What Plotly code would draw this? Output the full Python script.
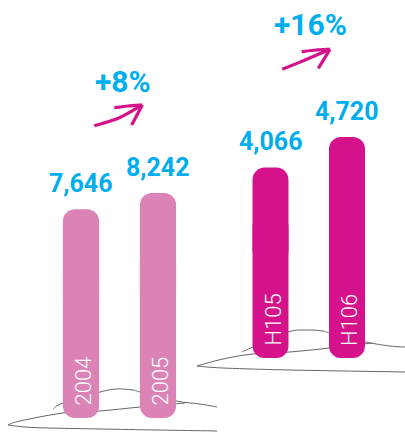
import plotly.graph_objects as go

# ---- data ----
years = ["2004", "2005"]
year_values = [7646, 8242]
halves = ["H105", "H106"]
half_values = [4066, 4720]
growth_labels = ["+8%", "+16%"]

# ---- style constants ----
W, H = 405, 432
PINK = "#db83b7"
MAGENTA = "#d5118b"
CYAN = "#00aeef"
FONT = "Roboto"


def px(xp, yp):
    return xp / W, 1 - yp / H


def smooth_path(points):
    pts = [px(x, y) for x, y in points]
    d = "M{:.5f},{:.5f}".format(*pts[0])
    n = len(pts)
    for i in range(n - 1):
        p0 = pts[i - 1] if i > 0 else pts[i]
        p1 = pts[i]
        p2 = pts[i + 1]
        p3 = pts[i + 2] if i + 2 < n else pts[i + 1]
        c1 = (p1[0] + (p2[0] - p0[0]) / 6, p1[1] + (p2[1] - p0[1]) / 6)
        c2 = (p2[0] - (p3[0] - p1[0]) / 6, p2[1] - (p3[1] - p1[1]) / 6)
        d += " C{:.5f},{:.5f} {:.5f},{:.5f} {:.5f},{:.5f}".format(*c1, *c2, *p2)
    return d


fig = go.Figure()


def add_group(cats, vals, color, xa, ya):
    # upper part, rounded at the top
    fig.add_trace(go.Bar(
        x=cats, y=[v * 0.5 for v in vals], base=[v * 0.5 for v in vals],
        marker=dict(color=color, cornerradius=12, line=dict(width=0)),
        width=0.47, xaxis=xa, yaxis=ya, hoverinfo="skip"))
    # lower part, rounded at the bottom
    fig.add_trace(go.Bar(
        x=cats, y=[-v * 0.75 for v in vals], base=[v * 0.75 for v in vals],
        marker=dict(color=color, cornerradius=12, line=dict(width=0)),
        width=0.47, xaxis=xa, yaxis=ya, hoverinfo="skip"))


add_group(years, year_values, PINK, "x", "y")
add_group(halves, half_values, MAGENTA, "x2", "y2")

annotations = []
for cats, vals, xr, yr in [(years, year_values, "x", "y"), (halves, half_values, "x2", "y2")]:
    for i, (c, v) in enumerate(zip(cats, vals)):
        annotations.append(dict(
            x=i, y=v, xref=xr, yref=yr, text=f"{v:,}", showarrow=False,
            yanchor="middle", yshift=26,
            font=dict(family=FONT, size=25, color=CYAN, weight="bold")))
        annotations.append(dict(
            x=i, y=0, xref=xr, yref=yr, text=c, showarrow=False,
            textangle=-90, yanchor="bottom", yshift=10, xshift=2,
            font=dict(family=FONT, size=22, color="white", weight=300)))

for lbl, (cx, cy) in zip(growth_labels, [(122.5, 81.5), (310, 24)]):
    fx, fy = px(cx, cy)
    annotations.append(dict(
        x=fx, y=fy, xref="paper", yref="paper", text=lbl, showarrow=False,
        xanchor="center", yanchor="middle",
        font=dict(family=FONT, size=30, color=CYAN, weight="bold")))

# ---- decorations: hand-drawn ground lines and arrows ----
ground = [
    # left
    [(53, 409), (63, 403), (100, 392), (117, 389), (133, 390), (140, 392), (176, 401), (200, 404), (217, 407)],
    [(8, 425), (20, 421), (63, 413), (100, 411), (140, 407), (185, 403)],
    [(8, 425), (33, 427.5), (100, 429), (217, 431)],
    # right
    [(242, 352), (253, 347), (288, 332), (307, 330), (323, 331), (330, 333), (366, 342), (390, 346), (405, 347)],
    [(197, 366), (223, 359), (253, 354), (290, 352), (330, 348), (372, 343)],
    [(197, 366), (223, 368), (290, 370), (405, 372)],
]
shapes = []
for g in ground:
    shapes.append(dict(type="path", xref="paper", yref="paper", path=smooth_path(g),
                       line=dict(color="#666666", width=1), layer="below"))

arrows = [
    [[(94.3, 125.7), (118.3, 118.3), (142.3, 105)], [(114.3, 107.7), (128, 106), (142.3, 105)], [(142.3, 105), (131.7, 125)]],
    [[(282.3, 69.3), (305, 60), (330, 49.3)], [(301.7, 51.7), (316, 50), (330, 49.3)], [(330, 49.3), (318.3, 68.3)]],
]
for a in arrows:
    for stroke in a:
        shapes.append(dict(type="path", xref="paper", yref="paper", path=smooth_path(stroke),
                           line=dict(color=MAGENTA, width=3.2), layer="above"))

# ---- axes: two independent scales ----
left_zero, left_scale = 418, 225 / 8242
right_zero, right_scale = 358, 221 / 4720
lx0, lstep = 81, 77
rx0, rstep = 270.5, 76.5
split = 202.5

fig.update_layout(
    width=W, height=H, margin=dict(l=0, r=0, t=0, b=0),
    paper_bgcolor="white", plot_bgcolor="white",
    showlegend=False, barmode="overlay",
    xaxis=dict(domain=[0, split / W], range=[-lx0 / lstep, (split - lx0) / lstep], visible=False, type="category"),
    yaxis=dict(domain=[0, 1], range=[-(H - left_zero) / left_scale, left_zero / left_scale], visible=False),
    xaxis2=dict(domain=[split / W, 1], range=[(split - rx0) / rstep, (W - rx0) / rstep], visible=False, type="category", anchor="y2"),
    yaxis2=dict(domain=[0, 1], range=[-(H - right_zero) / right_scale, right_zero / right_scale], visible=False, anchor="x2"),
    annotations=annotations, shapes=shapes,
)

fig.write_html("out.html")
